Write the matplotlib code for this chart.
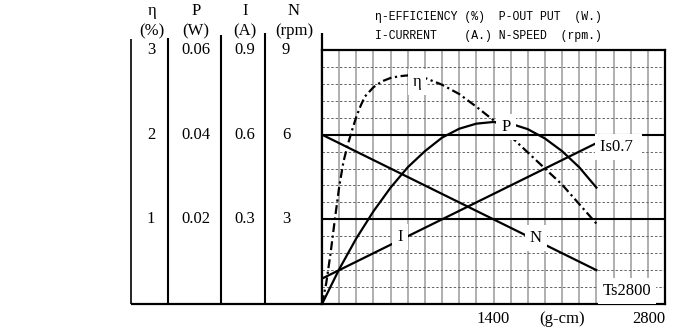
import matplotlib
matplotlib.use('Agg')
import matplotlib.pyplot as plt
import numpy as np
from matplotlib.transforms import blended_transform_factory

plt.rcParams['font.family'] = ['Liberation Serif', 'DejaVu Serif']

# ---------------- data ----------------
torque_max = 2800          # g-cm
grid_step = 140            # g-cm per vertical grid cell
x_tick_values = [1400, 2800]
x_tick_labels = ['1400', '2800']

# efficiency (%)
eta_torque = [0, 35, 70, 105, 140, 175, 210, 245, 280, 315, 350, 420, 490,
              560, 630, 700, 770, 840, 980, 1120, 1260, 1400, 1540, 1680,
              1820, 1960, 2100, 2240]
eta_pct = [0, 0.25, 0.60, 1.00, 1.38, 1.68, 1.88, 2.05, 2.21, 2.34, 2.45,
           2.56, 2.63, 2.67, 2.69, 2.70, 2.69, 2.67, 2.59, 2.48, 2.33, 2.17,
           1.98, 1.79, 1.60, 1.41, 1.18, 0.95]

# output power (W)
p_torque = [0, 140, 280, 420, 560, 700, 840, 980, 1120, 1260, 1400,
            1540, 1680, 1820, 1960, 2100, 2240]
p_watt = [0, 0.0082, 0.0155, 0.0219, 0.0275, 0.0323, 0.0361, 0.0393,
          0.0414, 0.0426, 0.0430, 0.0426, 0.0413, 0.0391, 0.0361, 0.0323, 0.0275]

# current (A)
i_torque = [0, 2240]
i_amp = [0.09, 0.57]

# speed (rpm)
n_torque = [0, 2240]
n_rpm = [6.0, 1.2]

# value of one major division for each scale
eta_div, p_div, i_div, n_div = 1.0, 0.02, 0.3, 3.0

# left scale table
col_names = ['η', 'P', 'I', 'N']
col_units = ['(%)', '(W)', '(A)', '(rpm)']
levels = [1, 2, 3]
eta_ticks = ['1', '2', '3']
p_ticks = ['0.02', '0.04', '0.06']
i_ticks = ['0.3', '0.6', '0.9']
n_ticks = ['3', '6', '9']

# ---------------- figure ----------------
W, H = 700, 329
fig = plt.figure(figsize=(W / 100, H / 100), dpi=100)
fig.patch.set_facecolor('white')

L, R, T, B = 322, 665, 50, 304
bg = fig.add_axes([0, 0, 1, 1])
bg.set_xlim(0, W)
bg.set_ylim(H, 0)
bg.axis('off')

ax = fig.add_axes([L / W, 1 - B / H, (R - L) / W, (B - T) / H])
ax.set_xlim(0, torque_max)
ax.set_ylim(0, 3)

FS = 12

# grid
ax.set_xticks(x_tick_values)
ax.set_xticklabels(x_tick_labels)
ax.set_xticks(np.arange(0, torque_max + 1, grid_step), minor=True)
ax.set_yticks([])
ax.set_yticks(np.arange(0, 3.01, 0.2), minor=True)
ax.tick_params(which='both', length=0, labelsize=FS, pad=5)
ax.tick_params(axis='y', which='both', labelleft=False)
ax.grid(which='both', axis='x', color='#9a9a9a', lw=1.1, zorder=0.5)
ax.grid(which='minor', axis='y', color='#666666', lw=0.7,
        linestyle=(0, (2.5, 2)), zorder=0.5)
ax.set_axisbelow(True)
for lab in ax.get_xticklabels():
    if lab.get_text() == '2800':
        lab.set_horizontalalignment('right')
for s in ax.spines.values():
    s.set_linewidth(1.6)
    s.set_color('black')

ax.axhline(1, color='black', lw=1.5, zorder=5)
ax.axhline(2, color='black', lw=1.5, zorder=5)

# curves
ax.plot(n_torque, np.array(n_rpm) / n_div, color='black', lw=1.6, zorder=3)
ax.plot(i_torque, np.array(i_amp) / i_div, color='black', lw=1.6, zorder=3)
ax.plot(p_torque, np.array(p_watt) / p_div, color='black', lw=1.6, zorder=3)
ax.plot(eta_torque, np.array(eta_pct) / eta_div, color='black', lw=1.6,
        linestyle=(0, (4, 1.6, 1, 1.6)), zorder=3)

box = dict(facecolor='white', edgecolor='none', boxstyle='square,pad=0.3')
lab_kw = dict(fontsize=FS, ha='center', va='center', bbox=box)
ax.text(775, 2.62, 'η', zorder=4, **lab_kw)
ax.text(1502, 2.09, 'P', zorder=4, **lab_kw)
ax.text(637, 0.79, 'I', zorder=4, **lab_kw)
ax.text(1747, 0.78, 'N', zorder=4, **lab_kw)
ax.text(2272, 1.85, 'Is0.7 ', fontsize=FS, ha='left', va='center',
        bbox=box, zorder=6)
ax.text(2290, 0.15, 'Ts2800', fontsize=FS, ha='left', va='center',
        bbox=box, zorder=6)
ax.annotate('(g-cm)', xy=(1960, 0), xycoords=('data', 'axes fraction'),
            xytext=(0, -5), textcoords='offset points', ha='center', va='top',
            fontsize=FS)

# header legend
mono = ['Liberation Mono', 'DejaVu Sans Mono']
bg.text(375, 17, 'η-EFFICIENCY (%)  P-OUT PUT  (W.)', family=mono,
        fontsize=8.3, ha='left', va='center')
bg.text(375, 36, 'I-CURRENT    (A.) N-SPEED  (rpm.)', family=mono,
        fontsize=8.3, ha='left', va='center')

# left scale table
col_x = [151, 196, 245, 286]
head_x = [152, 196, 245, 294]
for hx, name, unit in zip(head_x, col_names, col_units):
    bg.text(hx, 11, name, fontsize=FS, ha='center', va='center')
    bg.text(hx, 31, unit, fontsize=FS, ha='center', va='center')
tr = blended_transform_factory(bg.transData, ax.transData)
for cx, labels in zip(col_x, [eta_ticks, p_ticks, i_ticks, n_ticks]):
    for lv, txt in zip(levels, labels):
        bg.text(cx, lv, txt, transform=tr, fontsize=FS, ha='center',
                va='center', clip_on=False)

# table frame lines
for x0, ytop, lw in [(131, 39, 1.2), (168, 38, 1.5), (221, 35, 1.5),
                     (265, 33, 1.5), (322, 33, 1.6)]:
    bg.plot([x0, x0], [ytop, B], color='black', lw=lw, solid_capstyle='butt')
bg.plot([131, L], [B, B], color='black', lw=1.6, solid_capstyle='butt')

fig.savefig('out.png', dpi=100)
